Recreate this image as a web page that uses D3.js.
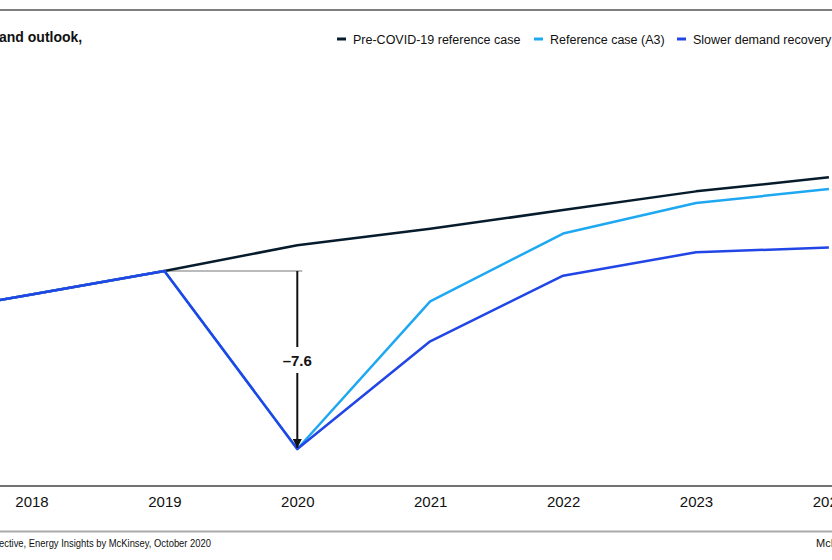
<!DOCTYPE html>
<meta charset="utf-8">
<style>
    body { margin: 0; background: #fff; }
    text { font-family: "Liberation Sans", Arial, sans-serif; fill: #111; }
</style>
<body>
<script src="https://cdn.jsdelivr.net/npm/d3@7"></script>
<script>
    var width = 832
    var height = 560

    var years = [2017, 2018, 2019, 2020, 2021, 2022, 2023, 2024]
    var preCovid = [98.0, 99.0, 100.0, 101.1, 101.8, 102.6, 103.4, 104.0]
    var refA3 = [98.0, 99.0, 100.0, 92.4, 98.7, 101.6, 102.9, 103.5]
    var slower = [98.0, 99.0, 100.0, 92.4, 97.0, 99.8, 100.8, 101.0]
    var seriesNames = ['Pre-COVID-19 reference case', 'Reference case (A3)', 'Slower demand recovery']
    var seriesColors = ['#061c2c', '#1ea8f2', '#2245e6']
    var dropLabel = '\u20137.6'

    var svg = d3.select('body').append('svg')
        .attr('width', width)
        .attr('height', height)

    var x = d3.scaleLinear().domain([2018, 2023]).range([31.5, 696])
    var y = d3.scaleLinear().domain([92.4, 100]).range([449, 271])

    // frame rules
    svg.append('line').attr('x1', 0).attr('x2', width).attr('y1', 10).attr('y2', 10)
        .attr('stroke', '#555').attr('stroke-width', 1.5)
    svg.append('line').attr('x1', 0).attr('x2', width).attr('y1', 486).attr('y2', 486)
        .attr('stroke', '#444').attr('stroke-width', 1.5)
    svg.append('line').attr('x1', 0).attr('x2', width).attr('y1', 531.5).attr('y2', 531.5)
        .attr('stroke', '#aaa').attr('stroke-width', 2)

    svg.append('text').attr('x', -1).attr('y', 41.5)
        .style('font-size', '14px').style('font-weight', 'bold')
        .text('and outlook,')

    // legend
    var legendX = [337, 534, 677]
    seriesNames.forEach(function (name, i) {
        svg.append('line')
            .attr('x1', legendX[i]).attr('x2', legendX[i] + 9)
            .attr('y1', 39).attr('y2', 39)
            .attr('stroke', seriesColors[i]).attr('stroke-width', 3)
        svg.append('text')
            .attr('x', legendX[i] + 16).attr('y', 43.5)
            .style('font-size', '12.5px')
            .text(name)
    })

    // x axis labels
    var axis = d3.axisBottom(x).tickValues(years).tickFormat(d3.format('d')).tickSize(0)
    var gx = svg.append('g').attr('transform', 'translate(0,486)').call(axis)
    gx.select('.domain').remove()
    gx.selectAll('text')
        .attr('dy', 0).attr('y', 21)
        .style('font-size', '15px')
        .style('font-family', '"Liberation Sans", Arial, sans-serif')
        .attr('fill', '#111')

    // drop annotation
    var i19 = years.indexOf(2019)
    var i20 = years.indexOf(2020)
    svg.append('line')
        .attr('x1', x(2019)).attr('x2', x(2020) + 5)
        .attr('y1', y(refA3[i19])).attr('y2', y(refA3[i19]))
        .attr('stroke', '#777').attr('stroke-width', 1)

    // lines
    var line = d3.line()
        .x(function (d, i) { return x(years[i]) })
        .y(function (d) { return y(d) })

    ;[preCovid, refA3, slower].forEach(function (s, i) {
        svg.append('path')
            .datum(s)
            .attr('d', line)
            .attr('fill', 'none')
            .attr('stroke', seriesColors[i])
            .attr('stroke-width', 2.5)
            .attr('stroke-linejoin', 'round')
    })

    svg.append('defs').append('marker')
        .attr('id', 'arrow')
        .attr('viewBox', '0 0 10 10')
        .attr('refX', 10).attr('refY', 5)
        .attr('markerWidth', 4.5).attr('markerHeight', 4.5)
        .attr('orient', 'auto')
        .append('path').attr('d', 'M0,0L10,5L0,10z').attr('fill', '#111')

    svg.append('line')
        .attr('x1', x(2020)).attr('x2', x(2020))
        .attr('y1', y(refA3[i19])).attr('y2', y(refA3[i20]) - 1)
        .attr('stroke', '#111').attr('stroke-width', 2)
        .attr('marker-end', 'url(#arrow)')

    var labelY = (y(refA3[i19]) + y(refA3[i20])) / 2
    svg.append('rect')
        .attr('x', x(2020) - 18).attr('y', labelY - 13)
        .attr('width', 36).attr('height', 26)
        .attr('fill', '#fff')
    svg.append('text')
        .attr('x', x(2020)).attr('y', labelY + 5.5)
        .attr('text-anchor', 'middle')
        .style('font-size', '15px').style('font-weight', 'bold')
        .text(dropLabel)

    // footer
    svg.append('text').attr('x', -1).attr('y', 547)
        .style('font-size', '11px')
        .attr('textLength', 212).attr('lengthAdjust', 'spacingAndGlyphs')
        .text('ective, Energy Insights by McKinsey, October 2020')
    svg.append('text').attr('x', 816).attr('y', 547)
        .style('font-size', '11px')
        .text('McKinsey')
</script>
</body>
